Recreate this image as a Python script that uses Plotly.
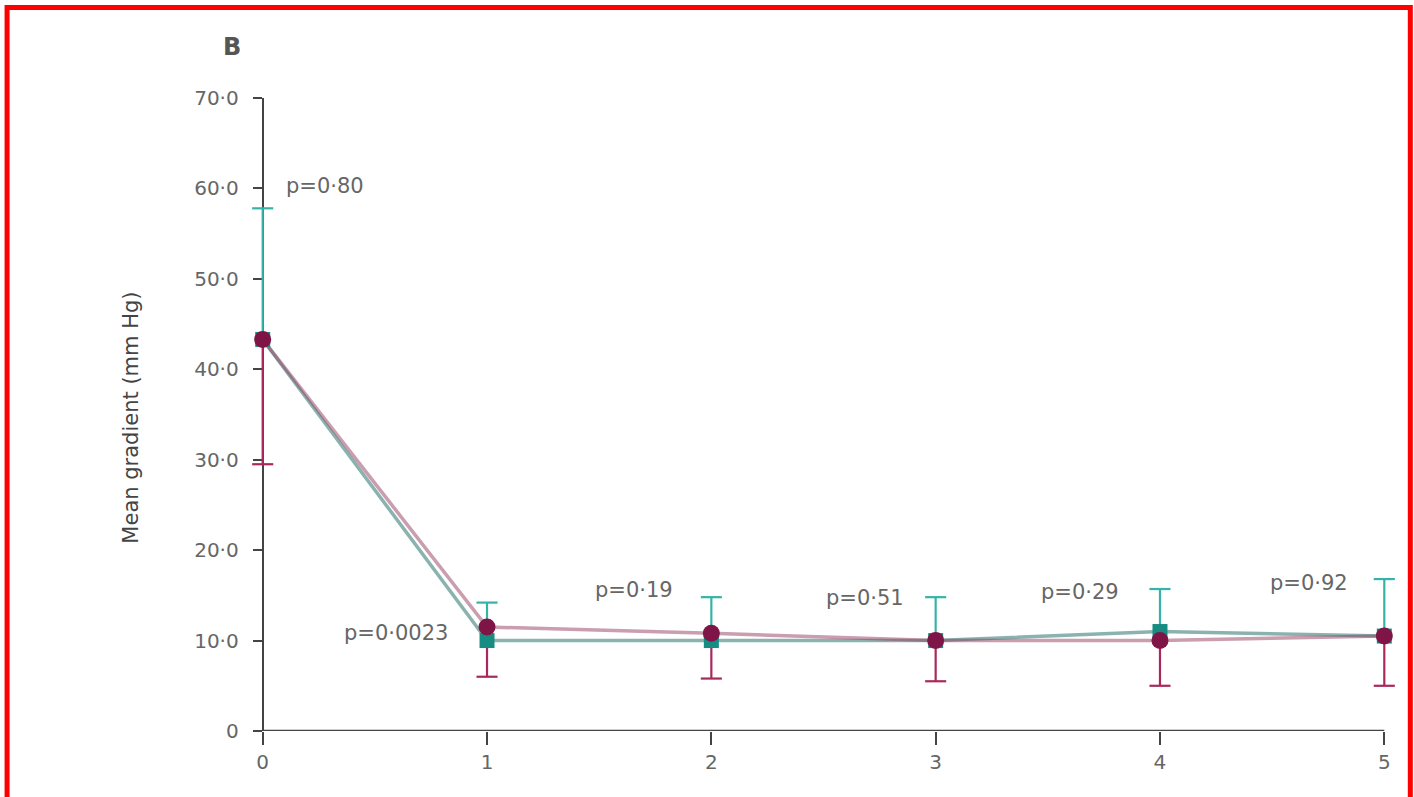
import plotly.graph_objects as go

# ---- data ----
years = [0, 1, 2, 3, 4, 5]
teal_mean = [43.3, 10.0, 10.0, 10.0, 11.0, 10.5]
teal_err_up = [14.5, 4.2, 4.8, 4.8, 4.7, 6.3]
crimson_mean = [43.3, 11.5, 10.8, 10.0, 10.0, 10.5]
crimson_err_down = [13.8, 5.5, 5.0, 4.5, 5.0, 5.5]

y_ticks = [0, 10, 20, 30, 40, 50, 60, 70]
y_tick_labels = ["0", "10·0", "20·0", "30·0", "40·0", "50·0", "60·0", "70·0"]

p_labels = ["p=0·80", "p=0·0023", "p=0·19", "p=0·51", "p=0·29", "p=0·92"]
p_x = [0.094, 0.594, 1.656, 2.683, 3.643, 4.665]
p_y = [60.3, 10.84, 15.6, 14.7, 15.4, 16.4]
p_anchor = ["left", "center", "center", "center", "center", "center"]

TEAL = "#168c82"
TEAL_ERR = "#35b3a7"
CRIM = "#7e1546"
CRIM_ERR = "#a8295a"
AXIS = "#444444"
FONT = "DejaVu Sans, Arial"

W, H = 1414, 797
X0_PX, X5_PX = 263, 1384          # pixel positions of x=0 and x=5
PAD = 0.07                        # extra x range so end error bars are not clipped
UNIT = (X5_PX - X0_PX) / 5.0
L = X0_PX - PAD * UNIT
R = W - (X5_PX + PAD * UNIT)
T, B = 98, 66
CAP = 0.047  # half cap width in x units


def err_path(xs, ys, deltas, sign):
    px, py = [], []
    for x, y, d in zip(xs, ys, deltas):
        end = y + sign * d
        px += [x, x, None, x - CAP, x + CAP, None]
        py += [y, end, None, end, end, None]
    return px, py


fig = go.Figure()

# connecting lines (semi-transparent so the overlap looks grey)
fig.add_trace(go.Scatter(x=years, y=teal_mean, mode="lines",
                         line=dict(color="rgba(60,128,122,0.6)", width=3.5),
                         hoverinfo="skip", showlegend=False))
fig.add_trace(go.Scatter(x=years, y=crimson_mean, mode="lines",
                         line=dict(color="rgba(150,60,95,0.5)", width=3.5),
                         hoverinfo="skip", showlegend=False))

# error bars
ex, ey = err_path(years, teal_mean, teal_err_up, +1)
fig.add_trace(go.Scatter(x=ex, y=ey, mode="lines", line=dict(color=TEAL_ERR, width=2.2),
                         hoverinfo="skip", showlegend=False))
ex, ey = err_path(years, crimson_mean, crimson_err_down, -1)
fig.add_trace(go.Scatter(x=ex, y=ey, mode="lines", line=dict(color=CRIM_ERR, width=2.2),
                         hoverinfo="skip", showlegend=False))

# markers
fig.add_trace(go.Scatter(x=years, y=teal_mean, mode="markers",
                         marker=dict(symbol="square", size=15, color=TEAL),
                         showlegend=False, cliponaxis=False))
fig.add_trace(go.Scatter(x=years, y=crimson_mean, mode="markers",
                         marker=dict(symbol="circle", size=17, color=CRIM),
                         showlegend=False, cliponaxis=False))

annotations = []
for txt, x, y, a in zip(p_labels, p_x, p_y, p_anchor):
    annotations.append(dict(x=x, y=y, xref="x", yref="y", text=txt,
                            showarrow=False, xanchor=a, yanchor="middle",
                            font=dict(family=FONT, size=21, color="#666666")))

pw = W - L - R
ph = H - T - B


def px_x(p):
    return (p - L) / pw


def px_y(p):
    return (H - B - p) / ph


annotations.append(dict(x=px_x(232), y=px_y(47), xref="paper", yref="paper",
                        text="<b>B</b>", showarrow=False, xanchor="center", yanchor="middle",
                        font=dict(family=FONT, size=24, color="#555555")))
annotations.append(dict(x=px_x(131), y=px_y(418), xref="paper", yref="paper",
                        text="Mean gradient (mm Hg)", textangle=-90, showarrow=False,
                        xanchor="center", yanchor="middle",
                        font=dict(family=FONT, size=21, color="#444444")))

shapes = [
    # x axis line from 0 to 5 only
    dict(type="line", xref="x", yref="y", x0=years[0], x1=years[-1], y0=0, y1=0,
         line=dict(color=AXIS, width=2.5), layer="below"),
    # red frame
    dict(type="rect", xref="paper", yref="paper",
         x0=px_x(7.5), x1=px_x(1410), y0=px_y(815), y1=px_y(7.5),
         line=dict(color="#ff0000", width=5), fillcolor="rgba(0,0,0,0)", layer="above"),
]

fig.update_layout(
    width=W, height=H,
    margin=dict(l=L, r=R, t=T, b=B, pad=0),
    paper_bgcolor="white", plot_bgcolor="white",
    annotations=annotations, shapes=shapes,
    xaxis=dict(range=[years[0] - PAD, years[-1] + PAD], tickvals=years,
               ticktext=[str(v) for v in years], layer="below traces",
               showgrid=False, zeroline=False, showline=False,
               ticks="outside", ticklen=13, tickwidth=2, tickcolor=AXIS,
               tickfont=dict(family=FONT, size=20, color="#666666"),
               ticklabelstandoff=0),
    yaxis=dict(range=[0, 70], tickvals=y_ticks, ticktext=y_tick_labels,
               anchor="free", position=PAD / (5 + 2 * PAD), layer="below traces",
               showgrid=False, zeroline=False, showline=True, linecolor=AXIS, linewidth=2,
               ticks="outside", ticklen=9, tickwidth=2, tickcolor=AXIS,
               tickfont=dict(family=FONT, size=20, color="#666666"),
               ticklabelstandoff=10),
)

fig.write_html("out.html")
